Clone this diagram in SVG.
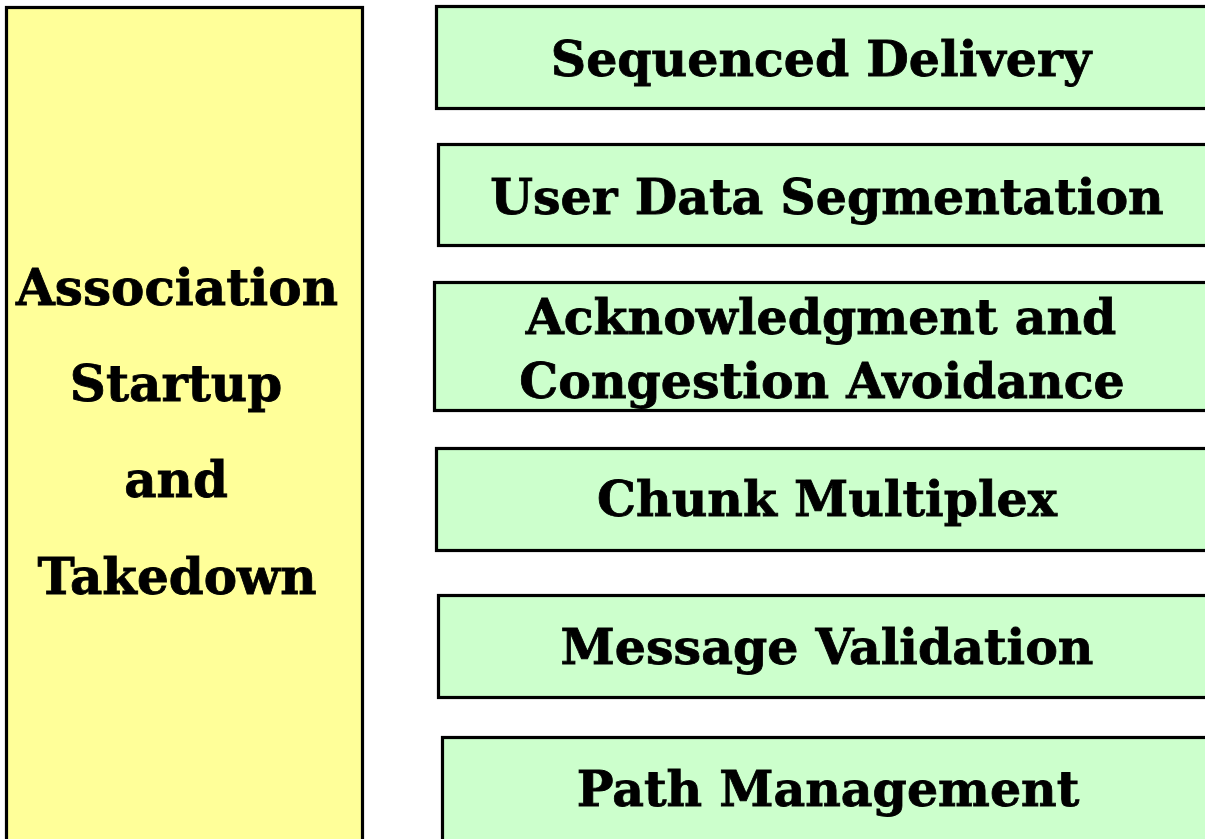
<svg xmlns="http://www.w3.org/2000/svg" width="1205" height="839" viewBox="0 0 1205 839">
  <style>
    .box { stroke: #000; stroke-width: 3.2; }
    .side { fill: #ffff99; }
    .fn { fill: #ccffcc; }
    .lbl { font-family: "DejaVu Serif", serif; font-weight: bold; font-size: 49px; fill: #000; stroke: #000; stroke-width: 0.8; text-anchor: middle; }
    .wide { font-size: 50px; }
  </style>
  <rect width="1205" height="839" fill="#fff"/>

  <!-- association lifecycle column -->
  <g id="association">
    <rect class="box side" x="6.5" y="7.5" width="356" height="840"/>
    <text class="lbl wide" x="177" y="305">Association</text>
    <text class="lbl wide" x="176" y="401">Startup</text>
    <text class="lbl wide" x="176" y="497">and</text>
    <text class="lbl wide" x="177" y="594">Takedown</text>
  </g>

  <!-- transport functions -->
  <g id="sequenced-delivery">
    <rect class="box fn" x="436.5" y="6.5" width="780" height="102"/>
    <text class="lbl" x="821" y="76">Sequenced Delivery</text>
  </g>
  <g id="user-data-segmentation">
    <rect class="box fn" x="438.5" y="144.5" width="780" height="101"/>
    <text class="lbl" x="827" y="214">User Data Segmentation</text>
  </g>
  <g id="ack-congestion">
    <rect class="box fn" x="434.5" y="282.5" width="780" height="128"/>
    <text class="lbl" x="821" y="334">Acknowledgment and</text>
    <text class="lbl" x="822" y="398">Congestion Avoidance</text>
  </g>
  <g id="chunk-multiplex">
    <rect class="box fn" x="436.5" y="448.5" width="780" height="102"/>
    <text class="lbl" x="827" y="516">Chunk Multiplex</text>
  </g>
  <g id="message-validation">
    <rect class="box fn" x="438.5" y="595.5" width="780" height="102"/>
    <text class="lbl" x="827" y="664">Message Validation</text>
  </g>
  <g id="path-management">
    <rect class="box fn" x="442.5" y="737.5" width="780" height="120"/>
    <text class="lbl" x="828" y="806">Path Management</text>
  </g>

  <g id="connectors"/>
</svg>
